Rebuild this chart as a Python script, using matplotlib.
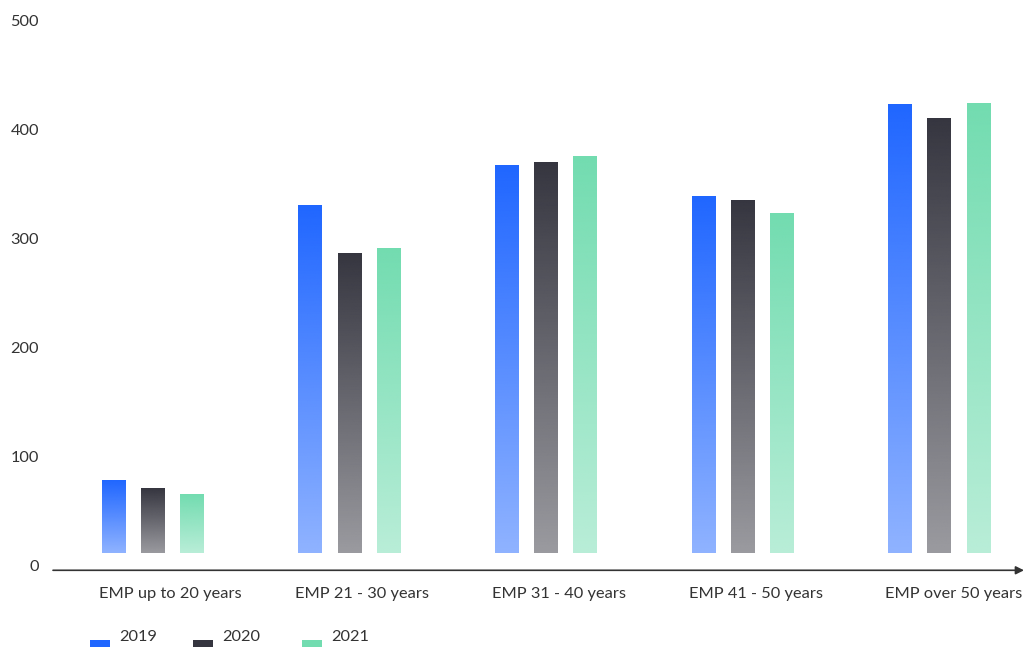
import numpy as np
import matplotlib
matplotlib.use("Agg")
import matplotlib.pyplot as plt
from matplotlib.patches import Rectangle
from matplotlib.colors import to_rgb

categories = ["EMP up to 20 years", "EMP 21 - 30 years", "EMP 31 - 40 years",
              "EMP 41 - 50 years", "EMP over 50 years"]
years = ["2019", "2020", "2021"]
emp_2019 = [78, 330, 367, 339, 423]
emp_2020 = [71, 286, 370, 335, 410]
emp_2021 = [66, 291, 375, 323, 424]
y_ticks = [0, 100, 200, 300, 400, 500]

colors = ["#1f66ff", "#35353f", "#72dcb0"]
text_color = "#333333"
font_size = 11.8
bar_base = 12          # bars float a little above the zero line
bar_width = 0.122
bar_step = 0.1995

plt.rcParams['font.family'] = ['Lato', 'DejaVu Sans']

W, H = 1024, 647
fig = plt.figure(figsize=(W / 100, H / 100), dpi=100)
ax = fig.add_axes([53 / W, (H - 565.7) / H, 971 / W, 545.7 / H])


def gradient_bar(ax, x0, top, color):
    # full colour at the top, fading to half opacity at the bottom
    rgb = to_rgb(color)
    n = 256
    img = np.zeros((n, 1, 4))
    img[..., :3] = rgb
    img[:, 0, 3] = np.linspace(1.0, 0.5, n)
    ax.imshow(img, extent=[x0, x0 + bar_width, bar_base, top],
              aspect='auto', interpolation='bilinear', zorder=2)


series = [emp_2019, emp_2020, emp_2021]
for s, (vals, col) in enumerate(zip(series, colors)):
    for i, v in enumerate(vals):
        gradient_bar(ax, i + s * bar_step, v, col)

xmin, xmax = -0.2477, 4.691
ax.set_xlim(xmin, xmax)
ax.set_ylim(0, 500)

for sp in ax.spines.values():
    sp.set_visible(False)
ax.set_xticks([])
ax.set_yticks(y_ticks)
ax.set_yticklabels([str(t) for t in y_ticks])
ax.tick_params(axis='y', length=0, pad=10, labelsize=font_size, labelcolor=text_color)

# x axis line with arrow head
ax.annotate("", xy=(xmax, -4.2), xytext=(xmin, -4.2),
            xycoords='data', textcoords='data', annotation_clip=False,
            arrowprops=dict(arrowstyle='-|>', color=text_color, lw=1.2,
                            mutation_scale=12, shrinkA=0, shrinkB=0))

for i, cat in enumerate(categories):
    ax.text(i - 0.015, -26, cat, ha='left', va='center', fontsize=font_size,
            color=text_color, clip_on=False)

# legend along the bottom edge
legend_x = [90, 193, 302]
for x, yr, col in zip(legend_x, years, colors):
    fig.add_artist(Rectangle((x / W, (H - 660) / H), 20 / W, 20 / H,
                             transform=fig.transFigure, color=col, lw=0))
    fig.text((x + 29) / W, (H - 637) / H, yr, ha='left', va='center',
             fontsize=font_size, color=text_color)

fig.savefig("out.png", dpi=100)
